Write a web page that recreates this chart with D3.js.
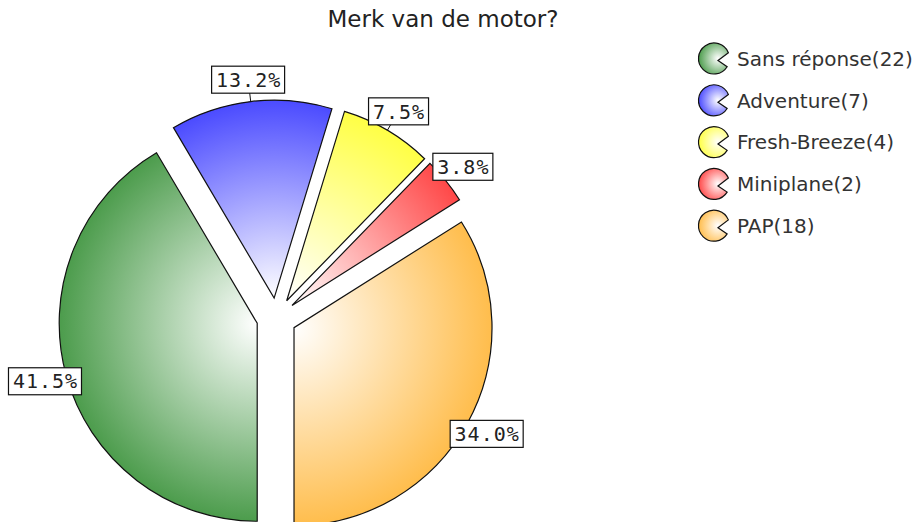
<!DOCTYPE html>
<html>
<head>
<meta charset="utf-8">
<script src="https://cdn.jsdelivr.net/npm/d3@7"></script>
<style>
  body { margin: 0; background: #fff; }
  svg { display: block; }
</style>
</head>
<body>
<div id="chart"></div>
<script>
const categories = ['Sans réponse', 'Adventure', 'Fresh-Breeze', 'Miniplane', 'PAP'];
const counts = [22, 7, 4, 2, 18];
const sliceColors = ['#4c9c4c', '#4b4bff', '#ffff45', '#ff4848', '#ffbd4c'];
const title = 'Merk van de motor?';

const width = 918, height = 522;
const center = { x: 276.5, y: 318 };
const radius = 198;
const explode = 20;
const labelGap = 22;

const data = categories.map((c, i) => ({ name: c, value: counts[i], color: sliceColors[i] }));
const total = d3.sum(counts);

const svg = d3.select('#chart').append('svg')
    .attr('width', width)
    .attr('height', height);

const defs = svg.append('defs');

// one radial gradient per slice: white at the tip, full colour at the rim
data.forEach((d, i) => {
    const g = defs.append('radialGradient')
        .attr('id', `slice-grad-${i}`)
        .attr('gradientUnits', 'userSpaceOnUse')
        .attr('cx', 0).attr('cy', 0).attr('r', radius);
    g.append('stop').attr('offset', '0%').attr('stop-color', '#ffffff');
    g.append('stop').attr('offset', '100%').attr('stop-color', d.color);

    const lg = defs.append('radialGradient')
        .attr('id', `legend-grad-${i}`)
        .attr('cx', '65%').attr('cy', '50%').attr('r', '65%');
    lg.append('stop').attr('offset', '0%').attr('stop-color', '#ffffff');
    lg.append('stop').attr('offset', '100%').attr('stop-color', d.color);
});

svg.append('text')
    .attr('x', 443)
    .attr('y', 27)
    .attr('text-anchor', 'middle')
    .style('font-family', '"DejaVu Sans", Verdana, sans-serif')
    .style('font-size', '23px')
    .style('fill', '#222')
    .text(title);

const pie = d3.pie()
    .sort(null)
    .value(d => d.value)
    .startAngle(Math.PI)
    .endAngle(3 * Math.PI);

const arcs = pie(data);
const arc = d3.arc().innerRadius(0).outerRadius(radius);

const pieG = svg.append('g')
    .attr('transform', `translate(${center.x},${center.y})`);

const midAngle = d => (d.startAngle + d.endAngle) / 2;

const slices = pieG.selectAll('.slice')
    .data(arcs)
    .enter().append('g')
    .attr('class', 'slice')
    .attr('transform', d => `translate(${Math.sin(midAngle(d)) * explode},${-Math.cos(midAngle(d)) * explode})`);

slices.append('path')
    .attr('d', arc)
    .attr('fill', (d, i) => `url(#slice-grad-${i})`)
    .attr('stroke', '#111')
    .attr('stroke-width', 1.2);

// small leader ticks
slices.append('line')
    .attr('x1', d => Math.sin(midAngle(d)) * radius)
    .attr('y1', d => -Math.cos(midAngle(d)) * radius)
    .attr('x2', d => Math.sin(midAngle(d)) * (radius + 9))
    .attr('y2', d => -Math.cos(midAngle(d)) * (radius + 9))
    .attr('stroke', '#111')
    .attr('stroke-width', 1);

// percentage labels in boxes
const fmt = d => `${(d.data.value / total * 100).toFixed(1)}%`;
const labels = slices.append('g')
    .attr('transform', d => {
        const r = radius + labelGap;
        return `translate(${Math.sin(midAngle(d)) * r},${-Math.cos(midAngle(d)) * r})`;
    });

labels.append('rect')
    .attr('x', d => -(fmt(d).length * 13 + 8) / 2)
    .attr('y', -13.5)
    .attr('width', d => fmt(d).length * 13 + 8)
    .attr('height', 27)
    .attr('fill', '#fff')
    .attr('stroke', '#111')
    .attr('stroke-width', 1.2);

labels.append('text')
    .attr('x', 0.5)
    .attr('y', 0)
    .attr('dy', '0.36em')
    .attr('text-anchor', 'middle')
    .style('font-family', '"DejaVu Sans Mono", monospace')
    .style('font-size', '20px')
    .style('letter-spacing', '1px')
    .style('fill', '#222')
    .text(fmt);

// legend with pacman icons
const legendX = 714, legendY = 58.5, legendStep = 41.8;
const iconPath = () => {
    const p = d3.path();
    const toRad = a => a * Math.PI / 180;
    p.moveTo(4, 2);
    p.arc(0, 0, 15.5, toRad(32), toRad(338), false);
    p.closePath();
    return p.toString();
};

const legend = svg.append('g').selectAll('.item')
    .data(data)
    .enter().append('g')
    .attr('class', 'item')
    .attr('transform', (d, i) => `translate(${legendX},${legendY + i * legendStep})`);

legend.append('path')
    .attr('d', iconPath())
    .attr('fill', (d, i) => `url(#legend-grad-${i})`)
    .attr('stroke', '#111')
    .attr('stroke-width', 1.2);

legend.append('text')
    .attr('x', 23)
    .attr('y', 0)
    .attr('dy', '0.36em')
    .style('font-family', '"DejaVu Sans", Verdana, sans-serif')
    .style('font-size', '20px')
    .style('fill', '#333')
    .text(d => `${d.name}(${d.value})`);
</script>
</body>
</html>
